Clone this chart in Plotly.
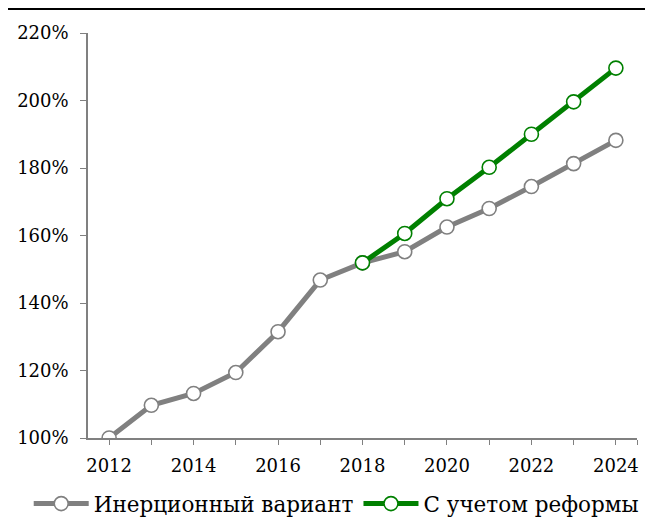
import plotly.graph_objects as go

years = list(range(2012, 2025))
inertial = [1.000, 1.097, 1.132, 1.194, 1.315, 1.468, 1.519,
            1.552, 1.625, 1.680, 1.745, 1.813, 1.882]
reform_years = list(range(2018, 2025))
reform = [1.519, 1.606, 1.709, 1.802, 1.900, 1.996, 2.096]

names = ['Инерционный вариант', 'С учетом реформы']
colors = ['#808080', '#008000']

fig = go.Figure()
for xs, ys, name, c in [(years, inertial, names[0], colors[0]),
                        (reform_years, reform, names[1], colors[1])]:
    fig.add_trace(go.Scatter(
        x=xs, y=ys, name=name, mode='lines+markers',
        line=dict(color=c, width=5),
        marker=dict(symbol='circle', size=14, color='white',
                    line=dict(color=c, width=1.6)),
    ))

# page has an 8px body offset, margins compensate for it
fig.update_layout(
    width=653, height=518,
    margin=dict(l=80, r=24, t=25, b=87.5, autoexpand=False),
    paper_bgcolor='white',
    plot_bgcolor='white',
    font=dict(family='DejaVu Serif', size=18, color='black'),
    showlegend=True,
    legend=dict(orientation='h', x=-0.108, xanchor='left',
                y=-0.162, yanchor='middle', itemwidth=55,
                font=dict(size=21.5), traceorder='normal'),
    xaxis=dict(range=[2011.5, 2024.5], dtick=2, tick0=2012,
               showgrid=False, zeroline=False, automargin=False,
               showline=True, linecolor='#808080', linewidth=1.5,
               ticks='outside', ticklen=5, tickcolor='#808080',
               ticklabelstandoff=6,
               minor=dict(tickmode='array',
                          tickvals=years + [years[-1] + 0.5],
                          ticks='outside', ticklen=5,
                          tickcolor='#808080')),
    yaxis=dict(range=[1.0, 2.2], dtick=0.2, tickformat='.0%',
               showgrid=False, zeroline=False, automargin=False,
               showline=True, linecolor='#808080', linewidth=1.5,
               ticks='outside', ticklen=6, tickcolor='#808080',
               ticklabelstandoff=8),
)

# thin black rule across the top
fig.add_shape(type='line', xref='paper', yref='paper',
              x0=-0.1457, x1=1.03, y0=1.0592, y1=1.0592,
              line=dict(color='black', width=2))

fig.write_html("out.html")
